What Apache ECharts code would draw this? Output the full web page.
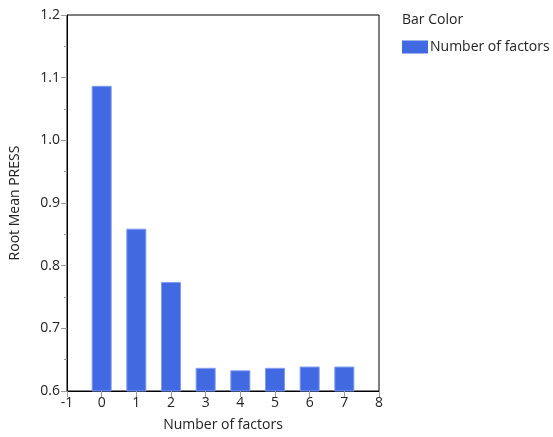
<!DOCTYPE html>
<html><head><meta charset="utf-8">
<script src="https://cdn.jsdelivr.net/npm/echarts@6/dist/echarts.min.js"></script>
<style>html,body{margin:0;padding:0;background:#fff}#c{width:553px;height:437px}</style>
</head><body><div id="c"></div>
<script>
const factors = [0, 1, 2, 3, 4, 5, 6, 7];
const rmPress = [1.087, 0.859, 0.774, 0.637, 0.633, 0.637, 0.639, 0.639];
const seriesName = 'Number of factors';
const legendTitle = 'Bar Color';
const xTitle = 'Number of factors';
const yTitle = 'Root Mean PRESS';

const font = 'Open Sans';
const chart = echarts.init(document.getElementById('c'), null, {renderer: 'canvas'});
chart.setOption({
  animation: false,
  textStyle: {fontFamily: font},
  grid: {left: 65, right: 174, top: 15, bottom: 45, show: true, borderColor: '#000', borderWidth: 1},
  graphic: [{type: 'text', left: 402, top: 13, style: {text: legendTitle, font: '14px "Open Sans"', fill: '#222'}}],
  legend: {left: 397, top: 35, itemWidth: 26, itemHeight: 13, itemGap: 3,
    itemStyle: {borderWidth: 0},
    textStyle: {fontSize: 14, color: '#222', fontFamily: font, padding: [0,0,0,-3]},
    data: [{name: seriesName, icon: 'rect'}]},
  xAxis: {type: 'value', min: -1, max: 8, interval: 1,
    name: xTitle, nameLocation: 'middle', nameGap: 27,
    nameTextStyle: {fontSize: 14, color: '#222'},
    axisLine: {show: true, onZero: false, lineStyle: {color: '#000'}},
    axisTick: {show: true, length: 6, lineStyle: {color: '#999'}},
    axisLabel: {fontSize: 14, color: '#222', margin: 5},
    splitLine: {show: false}},
  yAxis: {type: 'value', min: 0.6, max: 1.2, interval: 0.1,
    name: yTitle, nameLocation: 'middle', nameGap: 45,
    nameTextStyle: {fontSize: 14, color: '#222'},
    axisLine: {show: true, onZero: false, lineStyle: {color: '#000'}},
    axisTick: {show: true, length: 6, lineStyle: {color: '#999'}},
    minorTick: {show: true, splitNumber: 2, length: 3, lineStyle: {color: '#999'}},
    axisLabel: {fontSize: 14, color: '#222', margin: 7, formatter: v => v.toFixed(1)},
    splitLine: {show: false}},
  series: [{name: seriesName, type: 'bar', barWidth: 20,
    itemStyle: {color: '#4169E1', borderColor: '#7f9cf0', borderWidth: 1},
    data: factors.map((f, i) => [f, rmPress[i]])}]
});
</script></body></html>
